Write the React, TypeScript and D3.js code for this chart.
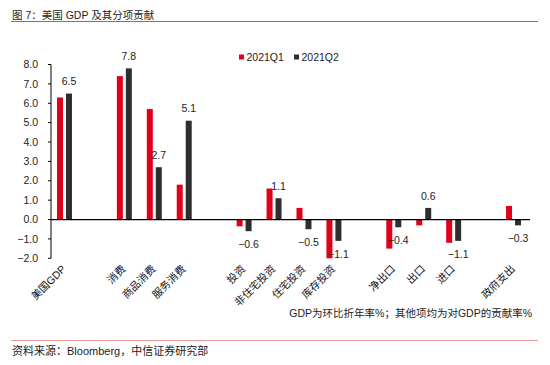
import React from "react";
import * as d3 from "d3";

// categories ("" = blank slot used as a spacer in the original chart)
const categories = [
  "美国GDP", "", "消费", "商品消费", "服务消费", "",
  "投资", "非住宅投资", "住宅投资", "库存投资", "",
  "净出口", "出口", "进口", "", "政府支出",
];
const q1 = [6.3, null, 7.4, 5.7, 1.8, null, -0.35, 1.6, 0.6, -2.0, null, -1.5, -0.3, -1.2, null, 0.7];
const q2 = [6.5, null, 7.8, 2.7, 5.1, null, -0.6, 1.1, -0.5, -1.1, null, -0.4, 0.6, -1.1, null, -0.3];
const seriesNames = ["2021Q1", "2021Q2"];
const yTicks = [-2, -1, 0, 1, 2, 3, 4, 5, 6, 7, 8];

const RED = "#e0001b";
const DARK = "#2e2e2e";
const FONT = "'Liberation Sans', Arial, 'Noto Sans CJK SC', sans-serif";

const W = 550, H = 365;
const left = 51, right = 530, top = 64.5, bottom = 258.3;

export default function App() {
  const x = d3.scaleBand<number>()
    .domain(d3.range(categories.length))
    .range([left, right])
    .paddingInner(0)
    .paddingOuter(0);
  const y = d3.scaleLinear().domain([-2, 8]).range([bottom, top]);
  const step = x.step();
  const barW = 6;
  const offsets = [6, 15];
  const series = [q1, q2];
  const colors = [RED, DARK];

  return (
    <svg width={W} height={H} style={{ position: "absolute", left: 0, top: 0, background: "#fff" }} fontFamily={FONT}>
      {/* title */}
      <text x={12} y={19} fontSize={10.5} fill="#222">图 7：美国 GDP 及其分项贡献</text>
      <line x1={11} x2={538} y1={21.5} y2={21.5} stroke="#d45050" strokeWidth={1} />

      {/* legend */}
      {seriesNames.map((s, i) => (
        <g key={s} transform={`translate(${239 + i * 55},0)`}>
          <rect x={0} y={54.5} width={5} height={5} fill={colors[i]} />
          <text x={7.5} y={61} fontSize={10.5} fill="#222">{s}</text>
        </g>
      ))}

      {/* y axis */}
      <line x1={left} x2={left} y1={top} y2={bottom} stroke="#000" strokeWidth={1} />
      {yTicks.map((t) => (
        <g key={t}>
          <line x1={left - 3} x2={left} y1={y(t)} y2={y(t)} stroke="#000" strokeWidth={1} />
          <text x={38} y={y(t)} dy="0.35em" textAnchor="end" fontSize={10.5} fill="#222">
            {d3.format(".1f")(t)}
          </text>
        </g>
      ))}

      {/* bars */}
      {series.map((vals, si) =>
        vals.map((v, i) => {
          if (v == null) return null;
          const x0 = (x(i) as number) + offsets[si] * (step / 30);
          const y0 = Math.min(y(v), y(0));
          const h = Math.abs(y(v) - y(0));
          return <rect key={`${si}-${i}`} x={x0} y={y0} width={barW} height={h} fill={colors[si]} />;
        })
      )}

      {/* zero line */}
      <line x1={left} x2={right} y1={y(0)} y2={y(0)} stroke="#000" strokeWidth={1.2} />

      {/* labels for Q2 */}
      {q2.map((v, i) => {
        if (v == null) return null;
        const cx = (x(i) as number) + offsets[1] * (step / 30) + barW / 2;
        const ty = v >= 0 ? y(v) - 12 : y(v) + 13;
        return (
          <text key={`l${i}`} x={cx} y={ty} dy="0.35em" textAnchor="middle" fontSize={10.5} fill="#222">
            {d3.format(".1f")(v)}
          </text>
        );
      })}

      {/* x labels */}
      {categories.map((c, i) =>
        c ? (
          <text
            key={`c${i}`}
            transform={`translate(${(x(i) as number) + step / 2 - 2},267) rotate(-45)`}
            textAnchor="end"
            dy="0.35em"
            fontSize={10.5}
            fill="#111"
          >
            {c}
          </text>
        ) : null
      )}

      {/* note */}
      <text x={532} y={317} textAnchor="end" fontSize={10.5} fill="#222">
        GDP为环比折年率%；其他项均为对GDP的贡献率%
      </text>
      <line x1={11} x2={538} y1={340.5} y2={340.5} stroke="#e89a9a" strokeWidth={1} />
      <text x={12} y={355} fontSize={11} fill="#222">资料来源：Bloomberg，中信证券研究部</text>
    </svg>
  );
}
